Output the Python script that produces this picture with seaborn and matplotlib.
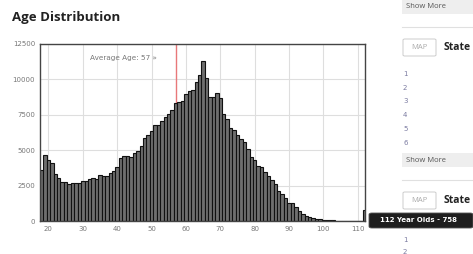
import matplotlib
matplotlib.use("Agg")
import matplotlib.pyplot as plt
import seaborn as sns
import numpy as np
import pandas as pd
from matplotlib.patches import FancyBboxPatch
from matplotlib.lines import Line2D

# ---- data ----
ages = list(range(18, 113))
counts = [
    3620, 4650, 4330, 4070, 3320, 3020, 2770, 2770, 2620, 2650,   # 18-27
    2650, 2650, 2790, 2840, 2980, 3050, 2980, 3240, 3150, 3150,   # 28-37
    3380, 3500, 3790, 4450, 4560, 4560, 4520, 4780, 4940, 5330,   # 38-47
    5840, 6070, 6360, 6790, 6790, 7070, 7310, 7550, 7840, 8310,   # 48-57
    8380, 8450, 9000, 9210, 9260, 9790, 10320, 11300, 10100, 8780, # 58-67
    8780, 9060, 8700, 7580, 7190, 6560, 6400, 6100, 5800, 5600,   # 68-77
    5050, 4550, 4300, 3850, 3830, 3450, 3150, 2900, 2580, 2150,   # 78-87
    1900, 1650, 1300, 1250, 1000, 720, 520, 380, 300, 230,        # 88-97
    165, 120, 90, 70, 55, 45, 35, 30, 25, 20,                     # 98-107
    15, 12, 10, 8, 758,                                           # 108-112
]
average_age = 57
x_ticks = [20, 30, 40, 50, 60, 70, 80, 90, 100, 110]
y_ticks = [0, 2500, 5000, 7500, 10000, 12500]
title = "Age Distribution"
avg_label = "Average Age: 57 \u00bb"
tooltip = "112 Year Olds - 758"

df = pd.DataFrame({"age": ages, "count": counts})

W, H = 473, 254
fig = plt.figure(figsize=(W / 100, H / 100), dpi=100)
fig.patch.set_facecolor("white")

def fx(px):
    return px / W

def fy(py):
    return 1 - py / H

ax = fig.add_axes([fx(40), fy(221), fx(365) - fx(40), fy(44) - fy(221)])
ax.set_facecolor("white")

ax.axvline(average_age, color="#e8787a", lw=1.0, zorder=1)
sns.histplot(data=df, x="age", weights="count", discrete=True, ax=ax,
             color="#6e6e6e", edgecolor="#111111", linewidth=0.8, alpha=1.0,
             zorder=2)

ax.set_xlim(17.55, 112.1)
ax.set_ylim(0, 12500)
ax.set_xticks(x_ticks)
ax.set_yticks(y_ticks)
ax.set_xticklabels([str(v) for v in x_ticks])
ax.set_yticklabels([str(v) for v in y_ticks])
ax.grid(True, color="#dedede", lw=0.8, zorder=0)
ax.set_axisbelow(True)
ax.tick_params(length=0, labelsize=5, colors="#777777", pad=3.5)
ax.set_xlabel("")
ax.set_ylabel("")
for s in ax.spines.values():
    s.set_color("#444444")
    s.set_linewidth(1.0)

ax.text(0.155, 0.92, avg_label, transform=ax.transAxes, fontsize=5.2,
        color="#777777", ha="left", va="center")

# ---- page elements ----
fig.text(fx(12), fy(18), title, fontsize=9.5, fontweight="bold",
         family="Open Sans", color="#222222", ha="left", va="center")

def box(x0, y0, x1, y1, fc, ec=None, lw=0.0, rad=0.0):
    p = FancyBboxPatch((fx(x0), fy(y1)), fx(x1) - fx(x0), fy(y0) - fy(y1),
                       boxstyle=f"round,pad=0,rounding_size={rad}",
                       transform=fig.transFigure, facecolor=fc,
                       edgecolor=ec if ec else fc, linewidth=lw, zorder=1)
    fig.patches.append(p)

def label(x, y, s, **kw):
    kw.setdefault("ha", "left")
    kw.setdefault("va", "center")
    fig.text(fx(x), fy(y), s, zorder=10, **kw)

# top "Show More"
box(402, 0, 473, 14, "#eeeeee")
label(406, 7, "Show More", fontsize=5.5, color="#555555", family="Open Sans")
fig.lines.append(Line2D([fx(402), fx(473)], [fy(27), fy(27)],
                        transform=fig.transFigure, color="#e0e0e0", lw=0.8))
# first MAP/State
box(403, 39, 436, 56, "white", "#cccccc", 0.7, 0.004)
label(419.5, 47.5, "MAP", fontsize=5.5, color="#aaaaaa", ha="center",
      family="Open Sans")
label(444, 47.5, "State", fontsize=7.5, fontweight="bold", color="#222222",
      family="Open Sans")
for i, yy in enumerate([74, 88, 101, 115, 129, 143]):
    label(403, yy, str(i + 1), fontsize=5, color="#7a7aa0")
box(402, 153, 473, 167, "#eeeeee")
label(406, 160, "Show More", fontsize=5.5, color="#555555", family="Open Sans")
fig.lines.append(Line2D([fx(402), fx(473)], [fy(180), fy(180)],
                        transform=fig.transFigure, color="#e0e0e0", lw=0.8))
box(403, 192, 436, 209, "white", "#cccccc", 0.7, 0.004)
label(419.5, 200.5, "MAP", fontsize=5.5, color="#aaaaaa", ha="center",
      family="Open Sans")
label(444, 200.5, "State", fontsize=7.5, fontweight="bold", color="#222222",
      family="Open Sans")
label(403, 240, "1", fontsize=5, color="#7a7aa0")
label(403, 252, "2", fontsize=5, color="#7a7aa0")
# tooltip
box(369, 213, 473, 228, "#1e1e1e", "#555555", 0.6, 0.006)
label(380, 220.5, tooltip, fontsize=5, fontweight="bold", color="white")

fig.savefig("out.png", dpi=100, facecolor="white")
